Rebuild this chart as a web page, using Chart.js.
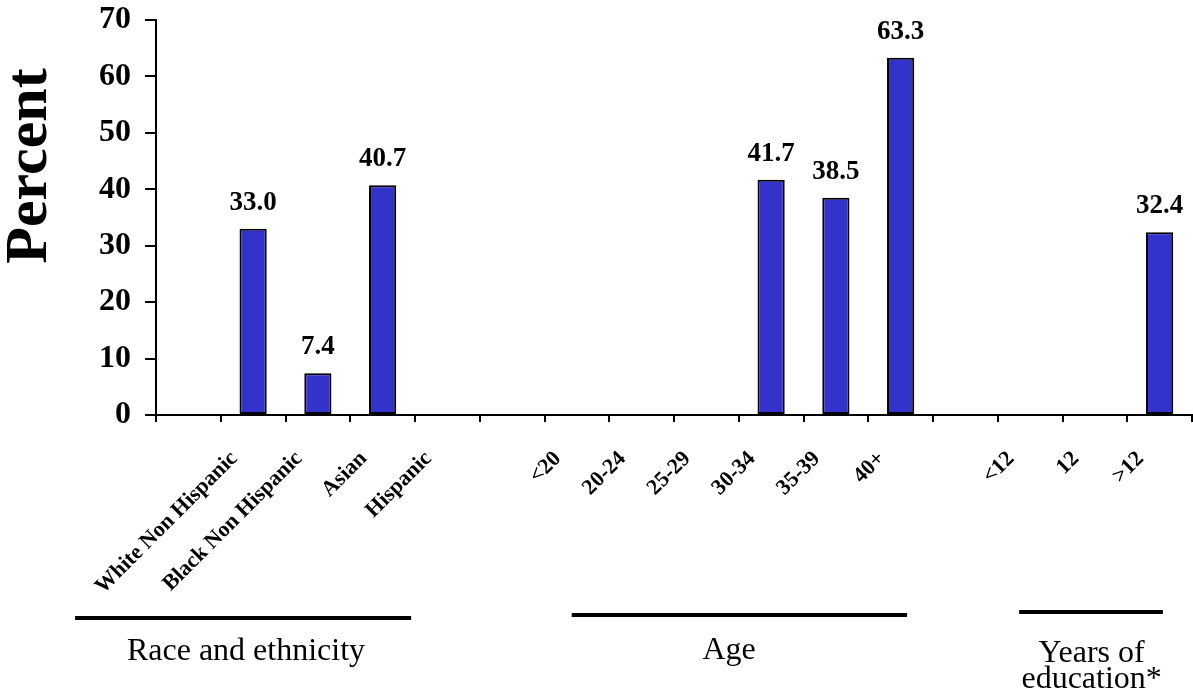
<!DOCTYPE html>
<html>
<head>
<meta charset="utf-8">
<script src="https://cdn.jsdelivr.net/npm/chart.js@4.4.1/dist/chart.umd.min.js"></script>
<style>
    html, body { margin: 0; padding: 0; background: #fff; }
    #wrap { width: 1193px; height: 694px; position: relative; }
</style>
</head>
<body>
<div id="wrap"><canvas id="percentChart"></canvas></div>
<script>
// categories along the x axis (empty ones are spacer slots between groups)
var categories = ['', 'White Non Hispanic', 'Black Non Hispanic', 'Asian', 'Hispanic', '',
    '<20', '20-24', '25-29', '30-34', '35-39', '40+', '', '<12', '12', '>12'];
var percentValues = [null, 33.0, 7.4, 40.7, null, null,
    null, null, null, 41.7, 38.5, 63.3, null, null, null, 32.4];
var yTicks = [0, 10, 20, 30, 40, 50, 60, 70];
var yTitle = 'Percent';
var groupNames = [['Race and ethnicity'], ['Age'], ['Years of', 'education*']];

var serif = '"Liberation Serif", "Times New Roman", serif';

// value labels over the bars
var valueLabels = {
    id: 'valueLabels',
    afterDatasetsDraw: function (chart) {
        var ctx = chart.ctx;
        var meta = chart.getDatasetMeta(0);
        ctx.save();
        ctx.fillStyle = '#000';
        ctx.font = 'bold 27px ' + serif;
        ctx.textAlign = 'center';
        ctx.textBaseline = 'alphabetic';
        meta.data.forEach(function (bar, i) {
            var v = percentValues[i];
            if (v === null) return;
            ctx.fillText(v.toFixed(1), bar.x, bar.y - 19);
        });
        ctx.restore();
    }
};

// group underlines + names below the axis, and the y title
var groupLabels = {
    id: 'groupLabels',
    afterDraw: function (chart) {
        var ctx = chart.ctx;
        var x = chart.scales.x;
        var area = chart.chartArea;
        var slot = x.width / categories.length;
        var px = function (s) { return x.left + s * slot; };
        var spans = [
            {from: -1.25, to: 3.94, mid: 1.39, line: 203, text: 245},
            {from: 6.42, to: 11.6, mid: 8.85, line: 200, text: 244},
            {from: 13.33, to: 15.55, mid: 14.45, line: 197, text: 247}
        ];
        ctx.save();
        ctx.strokeStyle = '#000';
        ctx.lineWidth = 4;
        ctx.fillStyle = '#000';
        ctx.font = '32px ' + serif;
        ctx.textAlign = 'center';
        ctx.textBaseline = 'alphabetic';
        spans.forEach(function (g, i) {
            ctx.beginPath();
            ctx.moveTo(px(g.from), area.bottom + g.line);
            ctx.lineTo(px(g.to), area.bottom + g.line);
            ctx.stroke();
            groupNames[i].forEach(function (t, j) {
                ctx.fillText(t, px(g.mid), area.bottom + g.text + j * 26);
            });
        });

        ctx.translate(30, 166);
        ctx.rotate(-Math.PI / 2);
        ctx.font = 'bold 60px ' + serif;
        ctx.textBaseline = 'middle';
        ctx.fillText(yTitle, 0, 0);
        ctx.restore();
    }
};

var chartCanvas = document.getElementById('percentChart');

var barChart = new Chart(chartCanvas, {
    type: 'bar',
    data: {
        labels: categories,
        datasets: [{
            data: percentValues,
            backgroundColor: '#3333CC',
            borderColor: '#000',
            borderWidth: 2,
            borderSkipped: false,
            categoryPercentage: 1,
            barPercentage: 0.42
        }]
    },
    options: {
        responsive: true,
        maintainAspectRatio: false,
        animation: false,
        layout: {padding: {top: 20, right: 1, left: 0, bottom: 0}},
        plugins: {
            legend: {display: false},
            tooltip: {enabled: false}
        },
        scales: {
            x: {
                afterFit: function (scale) {
                    scale.height = 279;
                    scale.paddingLeft = 0;
                    scale.paddingRight = 0;
                },
                grid: {
                    offset: true,
                    drawOnChartArea: false,
                    drawTicks: true,
                    tickLength: 7,
                    color: '#000',
                    lineWidth: 2
                },
                border: {display: true, color: '#000', width: 2},
                ticks: {
                    autoSkip: false,
                    minRotation: 45,
                    maxRotation: 45,
                    padding: 24,
                    labelOffset: -19,
                    color: '#000',
                    font: {family: serif, size: 22, weight: 'bold'}
                }
            },
            y: {
                min: 0,
                max: 70,
                afterFit: function (scale) {
                    scale.width = 156;
                    scale.paddingTop = 0;
                    scale.paddingBottom = 0;
                },
                afterBuildTicks: function (scale) {
                    scale.ticks = yTicks.map(function (v) { return {value: v}; });
                },
                grid: {
                    drawOnChartArea: false,
                    drawTicks: true,
                    tickLength: 11,
                    color: '#000',
                    lineWidth: 2
                },
                border: {display: true, color: '#000', width: 2},
                ticks: {
                    padding: 14,
                    color: '#000',
                    font: {family: serif, size: 32, weight: 'bold'}
                }
            }
        }
    },
    plugins: [valueLabels, groupLabels]
});
</script>
</body>
</html>
